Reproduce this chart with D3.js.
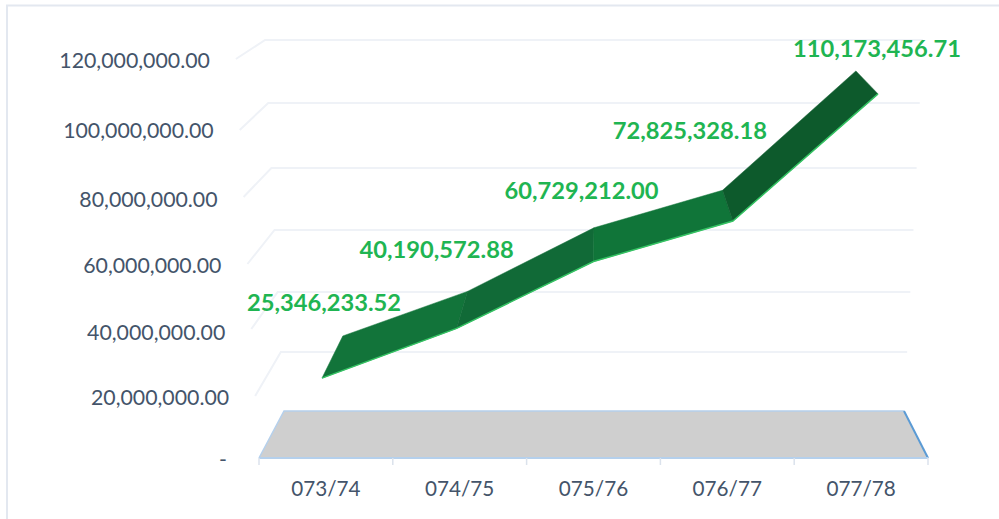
<!DOCTYPE html>
<html lang="en">
<head>
<meta charset="utf-8">
<script src="https://d3js.org/d3.v7.min.js"></script>
<style>
  html, body { margin: 0; padding: 0; background: #fff; }
  svg { display: block; }
  text { font-family: Lato, "Open Sans", sans-serif; }
</style>
</head>
<body>
<div id="chart"></div>
<script>
const categories = ["073/74", "074/75", "075/76", "076/77", "077/78"];
const values = [25346233.52, 40190572.88, 60729212.00, 72825328.18, 110173456.71];
const valueLabels = ["25,346,233.52", "40,190,572.88", "60,729,212.00", "72,825,328.18", "110,173,456.71"];
const ticks = [0, 20000000, 40000000, 60000000, 80000000, 100000000, 120000000];
const tickLabels = ["-", "20,000,000.00", "40,000,000.00", "60,000,000.00", "80,000,000.00", "100,000,000.00", "120,000,000.00"];

const width = 999, height = 519;
const centerX = 594;

const svg = d3.select("#chart").append("svg")
  .attr("width", width)
  .attr("height", height);

// the picture is a faked 3d chart, so there is a front plane and a back plane
const yFront = d3.scaleLinear().domain(ticks).range([459, 396, 329, 264, 197, 130, 59]);
const yBack = d3.scaleLinear().domain(ticks).range([411, 352, 292, 230, 168, 103, 40]);
const xFront = d3.scaleBand().domain(categories).range([259, 928]);
const xBack = d3.scaleBand().domain(categories).range([284, 904]);

// planes get wider with height
const spreadFront = d3.scaleLinear().domain([0, 120000000]).range([1, 1.069]);
const spreadBack = d3.scaleLinear().domain([0, 120000000]).range([1, 1.061]);
const persp = (x, v, spread) => centerX + (x - centerX) * spread(v);

const frontPt = (c, v) => [persp(xFront(c) + xFront.bandwidth() / 2, v, spreadFront), yFront(v)];
const backPt = (c, v) => [persp(xBack(c) + xBack.bandwidth() / 2, v, spreadBack), yBack(v)];

// frame
svg.append("path")
  .attr("d", "M7,519V5.5H999")
  .attr("fill", "none")
  .attr("stroke", "#e3e8f0")
  .attr("stroke-width", 2);

// gridlines
ticks.slice(1).forEach(v => {
  const fl = persp(xFront.range()[0], v, spreadFront);
  const bl = persp(xBack.range()[0], v, spreadBack);
  const br = persp(xBack.range()[1], v, spreadBack);
  svg.append("polyline")
    .attr("points", [[fl, yFront(v)], [bl, yBack(v)], [br, yBack(v)]].join(" "))
    .attr("fill", "none")
    .attr("stroke", "#eff2f7")
    .attr("stroke-width", 2);
});

// floor
const [fx0, fx1] = xFront.range();
const [bx0, bx1] = xBack.range();
const floorY = yFront(0) - 1, floorBackY = yBack(0);
svg.append("polygon")
  .attr("points", [[fx0, floorY], [bx0, floorBackY], [bx1, floorBackY], [fx1, floorY]].join(" "))
  .attr("fill", "#cfcfcf");
svg.append("path")
  .attr("d", `M${fx0},${floorY}L${bx0},${floorBackY}H${bx1}`)
  .attr("fill", "none")
  .attr("stroke", "#b5d0ec")
  .attr("stroke-width", 1.5);
svg.append("line")
  .attr("x1", bx1).attr("y1", floorBackY).attr("x2", fx1).attr("y2", floorY)
  .attr("stroke", "#5b9bd5")
  .attr("stroke-width", 2);
svg.append("line")
  .attr("x1", fx0).attr("y1", floorY).attr("x2", fx1).attr("y2", floorY)
  .attr("stroke", "#b5d0ec")
  .attr("stroke-width", 2);

// x ticks and labels
categories.concat([null]).forEach(c => {
  const x = c ? xFront(c) : fx1;
  svg.append("line")
    .attr("x1", x).attr("x2", x)
    .attr("y1", floorY).attr("y2", floorY + 7)
    .attr("stroke", "#dbe2ec")
    .attr("stroke-width", 1.5);
});
svg.selectAll(".xlabel")
  .data(categories)
  .join("text")
  .attr("class", "xlabel")
  .attr("x", d => xFront(d) + xFront.bandwidth() / 2)
  .attr("y", 489)
  .attr("dy", "0.35em")
  .attr("text-anchor", "middle")
  .attr("font-size", 20.7)
  .attr("fill", "#44546a")
  .text(d => d);

// y labels
const yLabelY = d3.scaleLinear().domain(ticks).range([459, 397, 332, 265, 199, 130, 60]);
svg.selectAll(".ylabel")
  .data(ticks)
  .join("text")
  .attr("class", "ylabel")
  .attr("x", d => persp(fx0, d, spreadFront) - (d === 0 ? 32 : 26))
  .attr("y", d => yLabelY(d) + 1)
  .attr("dy", "0.35em")
  .attr("text-anchor", "end")
  .attr("font-size", 21.3)
  .attr("fill", "#44546a")
  .text((d, i) => tickLabels[i]);

// ribbon, one shade per segment
const segColors = ["#12743a", "#116a37", "#107539", "#0d5a2c"];
d3.pairs(categories.map((c, i) => ({ c, v: values[i] }))).forEach(([a, b], i) => {
  svg.append("polygon")
    .attr("points", [frontPt(a.c, a.v), backPt(a.c, a.v), backPt(b.c, b.v), frontPt(b.c, b.v)].join(" "))
    .attr("fill", segColors[i])
    .attr("stroke", segColors[i])
    .attr("stroke-width", 0.5);
});

// light green front edge
svg.append("path")
  .attr("d", d3.line()(categories.map((c, i) => frontPt(c, values[i]))))
  .attr("fill", "none")
  .attr("stroke", "#35c363")
  .attr("stroke-width", 1.5);

// value labels sit by hand next to the ribbon
const labelShift = [[2, -75], [-20, -79], [-12, -71], [-43, -90], [-1, -45]];
svg.selectAll(".vlabel")
  .data(values)
  .join("text")
  .attr("class", "vlabel")
  .attr("x", (d, i) => frontPt(categories[i], d)[0] + labelShift[i][0])
  .attr("y", (d, i) => frontPt(categories[i], d)[1] + labelShift[i][1])
  .attr("dy", "0.35em")
  .attr("text-anchor", "middle")
  .attr("font-size", 23.7)
  .attr("font-weight", 700)
  .attr("fill", "#1fb552")
  .text((d, i) => valueLabels[i]);
</script>
</body>
</html>
